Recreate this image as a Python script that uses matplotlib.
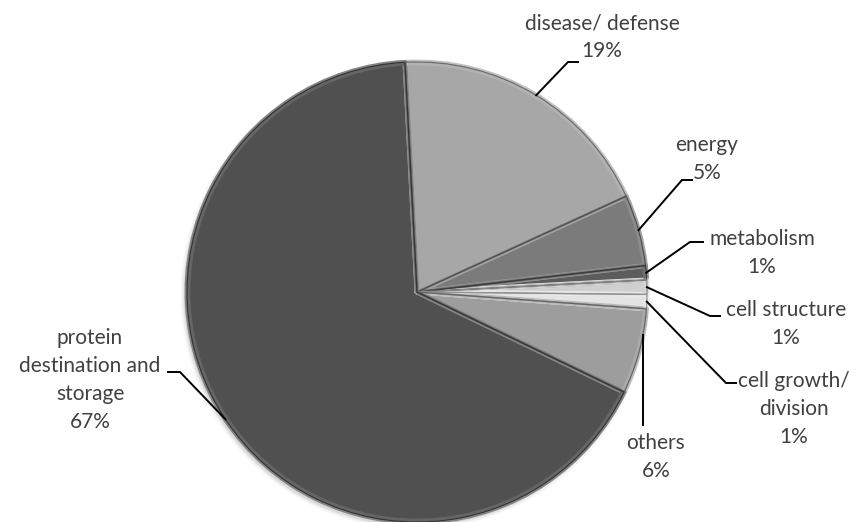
import numpy as np
import matplotlib
matplotlib.use("Agg")
import matplotlib.pyplot as plt
from matplotlib.patches import Wedge, Circle

# Functional categories and their shares (%)
categories = ["disease/ defense", "energy", "metabolism", "cell structure",
              "cell growth/\ndivision", "others", "protein\ndestination and\nstorage"]
shares = [19, 5, 1, 1, 1, 6, 67]
face_colors = ["#a7a7a7", "#7b7b7b", "#5c5c5c", "#cfcfcf", "#e4e4e4", "#9d9d9d", "#505050"]

W, H = 856, 522
fig = plt.figure(figsize=(W / 100, H / 100), dpi=100)
ax = fig.add_axes([0, 0, 1, 1])
ax.set_xlim(0, W)
ax.set_ylim(0, H)
ax.set_aspect("equal")
ax.axis("off")

plt.rcParams["font.family"] = ["Lato", "DejaVu Sans"]
text_color = "#404040"


def up(y):
    """Image-style y (from top) to axis y (from bottom)."""
    return H - y


cx, cy, r = 417, up(292), 230
start = 93

# soft drop shadow
for k, a in enumerate(np.linspace(0.05, 0.01, 5)):
    ax.add_patch(Circle((cx - 2, cy - 3), r + 1 + k, color="black", alpha=a, lw=0, zorder=0))


def lighten(c, f):
    rgb = np.array(matplotlib.colors.to_rgb(c))
    return tuple(rgb + (1 - rgb) * f)


def darken(c, f):
    rgb = np.array(matplotlib.colors.to_rgb(c))
    return tuple(rgb * (1 - f))


# pie drawn through ax.pie, then beveled
wedges, _ = ax.pie(shares, startangle=start, counterclock=False, radius=r,
                   center=(cx, cy), colors=face_colors,
                   wedgeprops=dict(edgecolor="none", linewidth=0))
for w, c in zip(wedges, face_colors):
    w.set_zorder(1)
    # bevel highlight
    ax.add_patch(Wedge(w.center, w.r, w.theta1, w.theta2,
                       facecolor="none", edgecolor=lighten(c, 0.3), lw=3.5, zorder=2,
                       joinstyle="round"))
    ax.add_patch(Wedge(w.center, w.r - 2, w.theta1, w.theta2,
                       facecolor="none", edgecolor=lighten(c, 0.12), lw=2.0, zorder=2.1))
    ax.add_patch(Wedge(w.center, w.r, w.theta1, w.theta2,
                       facecolor="none", edgecolor=darken(c, 0.35), lw=0.9, zorder=3))
ax.set_xlim(0, W)
ax.set_ylim(0, H)
ax.axis("off")

# label layout: text centre, elbow and end of leader (image coordinates)
label_pos = [(602, 37), (707, 159), (762, 253), (786, 324), (794, 409), (656, 457), (90, 380)]
elbows = [(568, 62), (682, 180), (690, 242), (710, 316), (726, 383), (643, 425), (180, 372)]
ends = [(578, 62), (692, 180), (703, 242), (720, 316), (736, 383), (643, 425), (168, 372)]

for w, name, v, tp, el, en in zip(wedges, categories, shares, label_pos, elbows, ends):
    mid = np.deg2rad((w.theta1 + w.theta2) / 2)
    ax_x = cx + r * np.cos(mid)
    ax_y = cy + r * np.sin(mid)
    if name == "others":
        ax_x = el[0]
        ax_y = cy + np.sqrt(r ** 2 - (ax_x - cx) ** 2) * np.sign(np.sin(mid))
    ax.plot([ax_x, el[0], en[0]], [ax_y, up(el[1]), up(en[1])],
            color="black", lw=1.4, zorder=5, solid_joinstyle="miter")
    ax.text(tp[0], up(tp[1]), f"{name}\n{v}%", ha="center", va="center",
            multialignment="center", fontsize=15, color=text_color,
            linespacing=1.48, zorder=6)

fig.savefig("out.png", dpi=100, facecolor="white")
